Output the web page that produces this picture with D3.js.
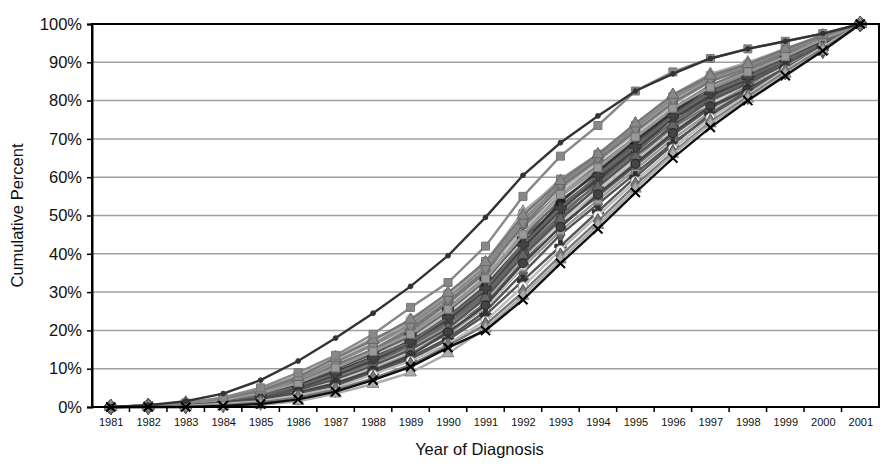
<!DOCTYPE html>
<html>
<head>
<meta charset="utf-8">
<script src="https://cdn.jsdelivr.net/npm/d3@7"></script>
<style>
  html, body { margin: 0; padding: 0; background: #fff; }
  svg { display: block; font-family: "Liberation Sans", Arial, sans-serif; }
</style>
</head>
<body>
<svg id="chart" width="882" height="468"></svg>
<script>
// Year of diagnosis categories
const years = ["1981","1982","1983","1984","1985","1986","1987","1988","1989","1990",
               "1991","1992","1993","1994","1995","1996","1997","1998","1999","2000","2001"];

// Y axis tick values (percent)
const yTicks = [0, 10, 20, 30, 40, 50, 60, 70, 80, 90, 100];

// Cumulative percent of cases by year, one array per area
const seriesValues = [
  [0,0.1,0.4,1.0,2.0,3.5,6.0,9.0,13.0,18.0,25.0,35.0,45.0,53.0,61.0,69.0,76.0,82.0,87.5,93.0,100],
  [0,0.1,0.5,1.2,2.3,4.0,6.5,10.0,14.0,19.0,26.0,36.5,46.0,54.0,62.0,70.0,77.0,82.5,88.0,93.5,100],
  [0,0.2,0.5,1.3,2.5,4.3,7.0,10.5,14.5,20.0,27.0,38.0,47.5,55.0,63.0,71.0,78.0,83.0,88.5,94.0,100],
  [0,0.2,0.6,1.4,2.7,4.7,7.5,11.0,15.5,21.0,28.0,39.0,48.5,56.0,64.0,72.0,78.5,83.5,89.0,94.0,100],
  [0,0.2,0.6,1.5,2.8,5.0,8.0,11.5,16.0,21.5,29.0,40.0,49.5,57.0,65.0,73.0,79.0,84.0,89.5,94.5,100],
  [0,0.2,0.6,1.6,3.0,5.3,8.5,12.0,16.5,22.5,30.0,41.0,51.0,58.0,66.0,74.0,80.0,85.0,90.0,95.0,100],
  [0,0.2,0.7,1.7,3.1,5.5,9.0,12.5,17.5,23.0,31.0,42.0,52.0,59.0,67.0,75.0,81.0,85.5,90.5,95.0,100],
  [0,0.3,0.7,1.8,3.3,5.8,9.5,13.5,18.0,24.0,32.0,43.0,53.0,60.0,68.0,76.0,82.0,86.0,91.0,95.5,100],
  [0,0.3,0.7,1.8,3.4,6.0,10.0,14.0,18.5,25.0,33.0,44.5,54.0,61.0,69.0,77.0,82.5,86.5,91.0,95.5,100],
  [0,0.3,0.8,1.9,3.6,6.5,10.5,14.5,19.5,26.0,34.0,45.5,55.0,62.0,70.0,77.5,83.0,87.0,91.5,96.0,100],
  [0,0.3,0.8,2.0,3.8,6.8,11.0,15.0,20.0,27.0,35.0,47.0,56.0,63.0,70.5,78.0,84.0,88.0,92.0,96.0,100],
  [0,0.3,0.8,2.0,4.0,7.0,11.5,16.0,21.0,28.0,36.0,48.0,57.0,64.0,71.5,79.0,85.0,88.5,92.5,96.5,100],
  [0,0.4,0.9,2.2,4.2,7.5,12.0,16.5,22.0,29.0,37.0,49.0,58.0,65.0,72.5,80.0,85.5,89.0,93.0,96.5,100],
  [0,0.4,1.0,2.3,4.5,8.2,12.5,17.5,22.5,29.5,38.0,50.5,59.5,66.0,73.5,81.0,86.5,89.5,93.5,97.0,100],
  [0,0.4,0.9,2.1,4.0,7.5,12.5,17.0,23.0,29.5,36.0,46.0,56.0,64.0,72.0,80.0,86.0,89.0,93.0,96.5,100],
  [0,0.2,0.5,1.2,2.2,4.0,6.8,10.5,14.5,20.5,26.0,37.0,48.0,57.0,65.0,75.0,79.0,84.5,89.0,94.0,100],
  [0,0.3,0.8,1.9,3.5,6.2,9.8,14.0,19.0,25.5,33.5,44.0,52.5,60.0,68.5,76.5,82.5,86.5,91.0,95.5,100],
  [0,0.3,0.7,1.7,3.2,5.6,9.2,13.0,17.0,23.5,31.5,42.5,53.5,61.5,69.5,77.0,83.5,87.5,91.5,95.5,100],
  [0,0.4,1.0,2.4,4.4,8.0,13.0,18.0,21.5,28.5,37.5,51.0,59.0,65.5,74.0,81.5,87.0,90.0,93.5,97.0,100],
  [0,0.2,0.6,1.5,2.9,5.2,8.2,12.0,16.0,22.0,29.5,40.5,50.0,58.5,66.5,74.5,80.5,85.0,90.0,94.5,100],
  [0,0.2,0.6,1.5,2.9,5.0,8.3,12.2,16.8,22.8,30.5,41.5,51.5,59.5,67.5,75.5,81.5,85.5,90.5,95.0,100],
  [0,0.3,0.8,2.0,3.7,6.5,10.8,15.0,20.5,27.5,35.5,47.5,57.5,64.5,72.0,79.5,85.0,88.5,92.5,96.5,100],
  [0,0.2,0.5,1.3,2.6,4.5,7.3,10.8,15.0,20.5,28.5,39.5,49.0,57.5,65.5,73.5,80.0,84.5,89.5,94.5,100],
  [0,0.3,0.9,2.1,4.0,7.2,11.8,16.2,21.5,28.5,36.5,48.5,58.5,65.5,73.0,80.5,86.0,89.0,93.0,96.5,100],
  [0,0.2,0.6,1.6,3.0,5.4,8.8,12.8,17.0,23.5,31.0,42.5,52.0,60.5,68.0,76.0,82.0,86.0,90.5,95.0,100],
  [0,0.3,0.8,1.9,3.6,6.3,10.2,14.5,19.0,25.5,33.5,45.0,55.5,62.5,70.5,78.0,83.5,87.5,91.5,96.0,100],
  [0,0.1,0.4,1.1,2.1,3.8,6.2,9.5,13.5,19.5,26.5,37.5,47.0,55.5,63.5,71.5,78.5,83.0,88.5,93.5,100],
  [0,0.4,1.0,2.3,4.3,7.8,12.8,17.5,22.8,29.8,37.8,50.0,59.0,66.0,74.0,81.5,86.5,89.5,93.5,97.0,100],
  // lower group
  [0,0.1,0.4,1.0,1.8,3.5,5.5,9.0,12.5,17.5,24.0,33.0,42.0,51.0,60.0,68.5,76.5,82.5,88.5,94.0,100],
  [0,0.1,0.3,0.8,1.5,3.0,5.0,8.5,12.0,16.5,22.5,31.5,41.0,50.0,59.0,67.5,75.5,81.5,88.0,94.0,100],
  [0,0.0,0.2,0.5,1.2,2.5,4.5,7.5,11.0,16.0,21.5,30.0,39.5,48.5,58.0,66.5,74.5,81.0,87.5,93.5,100],
  [0,0.0,0.0,0.2,0.6,1.5,3.5,6.0,9.0,14.0,20.5,29.0,38.5,47.5,57.0,66.0,74.0,80.5,87.0,93.0,100],
  // early-peaking areas
  [0,0.3,1.0,2.5,5.0,9.0,13.5,19.0,26.0,32.5,42.0,55.0,65.5,73.5,82.5,87.5,91.0,93.5,95.5,97.5,100],
  [0,0.5,1.5,3.5,7.0,12.0,18.0,24.5,31.5,39.5,49.5,60.5,69.0,76.0,82.5,87.0,91.0,93.5,95.5,97.5,100],
  // latest area
  [0,0.0,0.0,0.3,0.8,2.0,4.0,7.0,10.5,15.5,20.0,28.0,37.5,46.5,56.0,65.0,73.0,80.0,86.5,93.0,100]
];

// Line colour, marker shape, marker fill and marker stroke for each series
const lineColors = ["#555","#999","#666","#aaa","#777","#888","#444","#bbb","#666","#999",
                    "#777","#aaa","#888","#999","#bbb","#ccc","#555","#333","#aaa","#666",
                    "#444","#777","#555","#888","#666","#999","#444","#777",
                    "#555","#bbb","#777","#aaa","#888","#333","#111"];
const markerShapes = ["diamond","square","triangle","circle","plus","square","diamond","triangle","circle","square",
                      "diamond","triangle","square","square","circle","circle","plus","circle","triangle","diamond",
                      "square","circle","triangle","diamond","plus","square","circle","triangle",
                      "plus","circle","diamond","triangle","square","dot","times"];
const markerFills = ["#666","#999","#777","#888","#444","#888","#555","#aaa","#333","#999",
                     "#777","#aaa","#888","#999","#fff","#fff","#333","#222","#aaa","#666",
                     "#555","#777","#666","#888","#444","#999","#444","#888",
                     "#333","#fff","#777","#aaa","#888","#333","#000"];
const markerStrokes = ["#444","#777","#555","#999","#444","#777","#333","#888","#666","#777",
                       "#555","#888","#666","#777","#999","#aaa","#333","#111","#888","#444",
                       "#333","#555","#444","#666","#333","#777","#222","#666",
                       "#333","#999","#555","#888","#777","#333","#000"];

const svg = d3.select("#chart");
const margin = { left: 92, right: 3, top: 24, bottom: 61 };
const W = 882, H = 468;
const plotL = margin.left, plotR = W - margin.right, plotT = margin.top, plotB = H - margin.bottom;

const xBand = d3.scaleBand().domain(years).range([plotL, plotR]).padding(0);
const xPt = d3.scalePoint().domain(years).range([plotL, plotR]).padding(0.5);
const y = d3.scaleLinear().domain([0, 100]).range([plotB, plotT]);

// horizontal gridlines
svg.append("g").selectAll("line").data(yTicks.filter(d => d > 0 && d < 100)).join("line")
  .attr("x1", plotL).attr("x2", plotR)
  .attr("y1", d => y(d)).attr("y2", d => y(d))
  .attr("stroke", "#a0a0a0").attr("stroke-width", 1.5);

// series lines
const line = d3.line().x((d, i) => xPt(years[i])).y(d => y(d));
const series = svg.append("g").selectAll("g").data(seriesValues).join("g");

series.append("path")
  .attr("d", d => line(d))
  .attr("fill", "none")
  .attr("stroke", (d, i) => lineColors[i])
  .attr("stroke-width", 2.4);

const symbolTypes = {
  square: d3.symbolSquare, diamond: d3.symbolDiamond, triangle: d3.symbolTriangle,
  circle: d3.symbolCircle, plus: d3.symbolCross, times: d3.symbolTimes, dot: d3.symbolCircle
};
const symbolSizes = { square: 64, diamond: 70, triangle: 60, circle: 64, plus: 70, times: 56, dot: 18 };

series.each(function(vals, si) {
  const shape = markerShapes[si];
  const sym = d3.symbol().type(symbolTypes[shape]).size(symbolSizes[shape]);
  d3.select(this).selectAll("path.m").data(vals).join("path")
    .attr("class", "m")
    .attr("d", sym())
    .attr("transform", (d, i) => `translate(${xPt(years[i])},${y(d)})`)
    .attr("fill", shape === "times" ? "none" : markerFills[si])
    .attr("stroke", markerStrokes[si])
    .attr("stroke-width", shape === "times" ? 2 : 1);
});

// plot frame
svg.append("rect")
  .attr("x", plotL).attr("y", plotT)
  .attr("width", plotR - plotL).attr("height", plotB - plotT)
  .attr("fill", "none").attr("stroke", "#000").attr("stroke-width", 2);

// y axis
const yAxis = svg.append("g").attr("transform", `translate(${plotL},0)`)
  .call(d3.axisLeft(y).tickValues(yTicks).tickFormat(d => d + "%").tickSize(5).tickPadding(5));
yAxis.select(".domain").attr("stroke", "#000").attr("stroke-width", 2);
yAxis.selectAll(".tick line").attr("stroke", "#000").attr("stroke-width", 1.5);
yAxis.selectAll("text").attr("font-size", 16.5).attr("fill", "#111")
  .attr("font-family", "'Liberation Sans', Arial, sans-serif");

// x axis labels at category centres
const xAxis = svg.append("g").attr("transform", `translate(0,${plotB})`)
  .call(d3.axisBottom(xPt).tickSize(0).tickPadding(11));
xAxis.select(".domain").remove();
xAxis.selectAll("text").attr("font-size", 11).attr("fill", "#111")
  .attr("font-family", "'Liberation Sans', Arial, sans-serif");

// tick marks between categories
svg.append("g").selectAll("line").data(years.slice(1)).join("line")
  .attr("x1", d => xBand(d)).attr("x2", d => xBand(d))
  .attr("y1", plotB).attr("y2", plotB + 5)
  .attr("stroke", "#000").attr("stroke-width", 1.5);

// axis titles
svg.append("text")
  .attr("x", (plotL + plotR) / 2 - 6).attr("y", 455)
  .attr("text-anchor", "middle").attr("font-size", 16.5).attr("fill", "#111")
  .text("Year of Diagnosis");
svg.append("text")
  .attr("transform", `translate(23,${(plotT + plotB) / 2}) rotate(-90)`)
  .attr("text-anchor", "middle").attr("font-size", 16.5).attr("fill", "#111")
  .text("Cumulative Percent");
</script>
</body>
</html>
